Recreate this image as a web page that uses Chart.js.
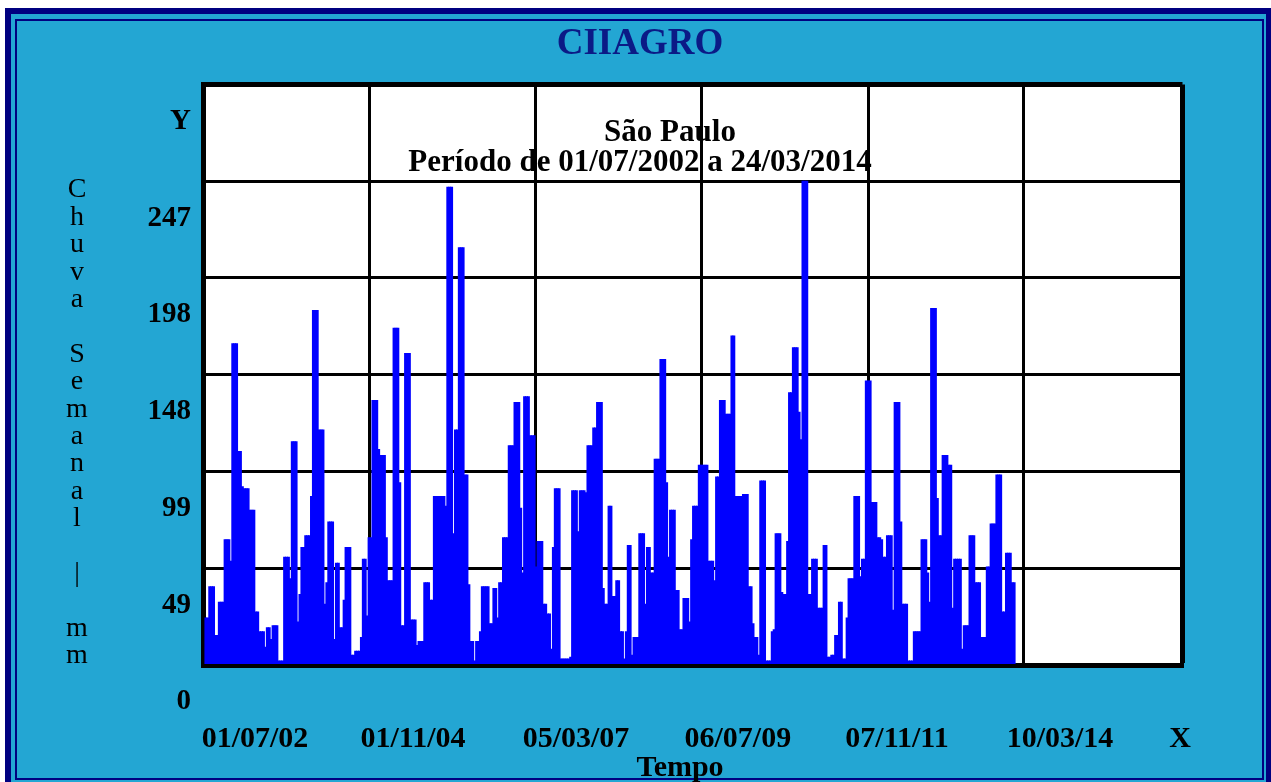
<!DOCTYPE html>
<html>
<head>
<meta charset="utf-8">
<title>CIIAGRO - Chuva Semanal</title>
<script src="https://cdn.jsdelivr.net/npm/chart.js@4.4.0/dist/chart.umd.min.js"></script>
<style>
  body { margin: 0; background: #fff; }
  #caixa { width: 1271px; height: 782px; }
</style>
</head>
<body>
<div id="caixa"><canvas id="myChart" width="1271" height="782"></canvas></div>
<script>
// chuva (mm) por periodo
let chuva = [
  24,24, 40,40,40, 15,15, 32,32,32, 64,64,64, 53, 164,164,164, 109,109, 91, 90,90,90,
  79,79,79, 27,27, 17,17,17, 9, 19,19, 13, 20,20,20, 2,2,2, 55,55,55, 44, 114,114,114,
  22, 36, 60,60, 66,66,66, 86, 181,181,181, 120,120,120, 31, 42, 73,73,73, 13, 52,52,
  19,19, 33, 60,60,60, 5,5, 7,7,7, 14, 54,54, 25, 65,65,
  135,135,135, 110, 107,107,107, 65, 43,43,43, 172,172,172, 93, 20,20, 159,159,159,
  23,23,23, 10, 12,12,12, 42,42,42, 33,33, 86,86,86,86,86,86, 81, 244,244,244, 67,
  120,120, 213,213,213, 97,97, 41, 12,12, 2, 12,12, 17, 40,40,40,40, 21,21, 39,39, 24,
  42,42, 65,65,65, 112,112,112, 134,134,134, 80, 47, 137,137,137, 117,117,117, 50,
  63,63,63, 31,31,
  26,26, 8, 60, 90,90,90, 3,3,3, 3,3, 4, 89,89,89, 68, 89,89,89, 88, 112,112,112,
  121,121, 134,134,134, 39, 31,31, 81,81, 35,35, 43,43, 17,17, 3, 17, 61,61, 5,
  14,14,14, 67,67,67, 31, 60,60, 47,47, 105,105,105, 156,156,156, 93, 55, 79,79,79,
  38,38, 18,18, 34,34,34, 22, 64, 81,81,81, 102,102,102,102,102,
  53,53,53, 43, 96,96, 135,135,135, 128,128,128, 168,168, 86,86,86,86, 87,87,87,
  40,40, 21, 14,14, 5, 94,94,94, 2,2,2, 17, 18, 67,67,67, 37, 36,36, 63, 139,139,
  162,162,162, 129, 115, 247,247,247, 36,36, 54,54,54, 29,29,29, 61,61, 4,4, 5,5,
  15,15, 32,32, 3,3, 24, 44,44,44, 86,86,86, 45, 54,54, 145,145,145, 83,83,83,
  65,65, 64, 55,55, 66,66,66, 28, 134,134,134, 73, 31,31,31, 2,2,2, 17,17,17,17,
  64,64,64, 47, 32, 182,182,182, 85, 66,66, 107,107,107, 102,102, 29, 54,54,54,54, 8,
  20,20,20, 66,66,66, 42,42,42, 14,14,14, 50,50, 72,72,72, 97,97,97, 27,27, 57,57,57,
  42,42
];

// linhas verticais da grade
let posGradeX = [0, 86.7, 173.4, 259.9, 346.4, 427.6, 510.2];
// rotulos do eixo X e onde ficam
let rotulosX = ['01/07/02', '01/11/04', '05/03/07', '06/07/09', '07/11/11', '10/03/14', 'X'];
let posRotulosX = [27.1, 109.4, 194.3, 278.6, 361.5, 446.4, 508.9];

let rotulosY = ['0', '49', '99', '148', '198', '247', 'Y'];
let posY = [0, 49.4, 98.8, 148.2, 197.6, 247, 296.4];

let textoEixoY = ['C', 'h', 'u', 'v', 'a', '', 'S', 'e', 'm', 'a', 'n', 'a', 'l', '', '|', '', 'm', 'm'];

const fonte = '"Liberation Serif", "Times New Roman", serif';
const azul = '#23a6d3';
const marinho = '#000080';

const moldura = {
    id: 'moldura',
    beforeDraw(chart) {
        const c = chart.ctx;
        const a = chart.chartArea;
        c.save();
        c.fillStyle = '#fff';
        c.fillRect(0, 0, chart.width, chart.height);
        c.fillStyle = marinho;
        c.fillRect(5, 8, chart.width - 5, chart.height - 8);
        c.fillStyle = azul;
        c.fillRect(11, 14, chart.width - 16, chart.height - 14);
        c.strokeStyle = marinho;
        c.lineWidth = 2;
        c.strokeRect(16, 20, 1247, 759);

        c.fillStyle = '#fff';
        c.fillRect(a.left, a.top, a.right - a.left, a.bottom - a.top);

        c.textAlign = 'center';
        c.textBaseline = 'middle';
        c.fillStyle = '#0b1a86';
        c.font = 'bold 37px ' + fonte;
        c.fillText('CIIAGRO', 640, 44);

        c.fillStyle = '#000';
        c.font = 'bold 31px ' + fonte;
        c.fillText('São Paulo', 670, 133);
        c.fillText('Período de 01/07/2002 a 24/03/2014', 640, 163);
        c.font = 'bold 30px ' + fonte;
        c.fillText('Tempo', 680, 768);

        c.font = '28px ' + fonte;
        textoEixoY.forEach((letra, i) => {
            c.fillText(letra, 77, 190 + i * 27.4);
        });
        c.restore();
    }
};

function renderChart() {
    const ctx = document.getElementById('myChart');

    new Chart(ctx, {
        type: 'bar',
        data: {
            datasets: [{
                label: 'Chuva Semanal (mm)',
                data: chuva.map((v, i) => ({ x: i + 1.5, y: v })),
                backgroundColor: '#0000ff',
                borderWidth: 0,
                barPercentage: 1,
                categoryPercentage: 1,
                inflateAmount: 0.5
            }]
        },
        options: {
            responsive: false,
            animation: false,
            devicePixelRatio: 1,
            layout: { padding: { top: 84.5, right: 88.5, bottom: 0, left: 0 } },
            plugins: {
                legend: { display: false },
                tooltip: { enabled: false }
            },
            scales: {
                x: {
                    type: 'linear',
                    min: 0,
                    max: 510.2,
                    offset: false,
                    afterBuildTicks: (scale) => { scale.ticks = posGradeX.map(v => ({ value: v })); },
                    afterFit: (scale) => { scale.height = 0; },
                    grid: {
                        offset: false,
                        color: '#000',
                        lineWidth: (c) => c.index === 6 ? 5 : 3,
                        drawTicks: false
                    },
                    border: { color: '#000', width: 5 },
                    ticks: { display: false }
                },
                xRotulos: {
                    type: 'linear',
                    position: 'bottom',
                    min: 0,
                    max: 510.2,
                    offset: false,
                    afterBuildTicks: (scale) => { scale.ticks = posRotulosX.map(v => ({ value: v })); },
                    afterFit: (scale) => { scale.height = 117; },
                    grid: { display: false, drawTicks: false },
                    border: { display: false },
                    ticks: {
                        autoSkip: false,
                        maxRotation: 0,
                        padding: 56,
                        color: '#000',
                        font: { family: fonte, size: 30, weight: 'bold' },
                        callback: (value, index) => rotulosX[index]
                    }
                },
                y: {
                    min: 0,
                    max: 296.4,
                    afterBuildTicks: (scale) => { scale.ticks = posY.map(v => ({ value: v })); },
                    afterFit: (scale) => { scale.width = 203; },
                    grid: {
                        color: '#000',
                        lineWidth: (c) => c.index === 6 ? 5 : 3,
                        drawTicks: false
                    },
                    border: { color: '#000', width: 5 },
                    ticks: {
                        padding: 12,
                        labelOffset: 37,
                        color: '#000',
                        font: { family: fonte, size: 29, weight: 'bold' },
                        callback: (value, index) => rotulosY[index]
                    }
                }
            }
        },
        plugins: [moldura]
    });
}

renderChart();
</script>
</body>
</html>
